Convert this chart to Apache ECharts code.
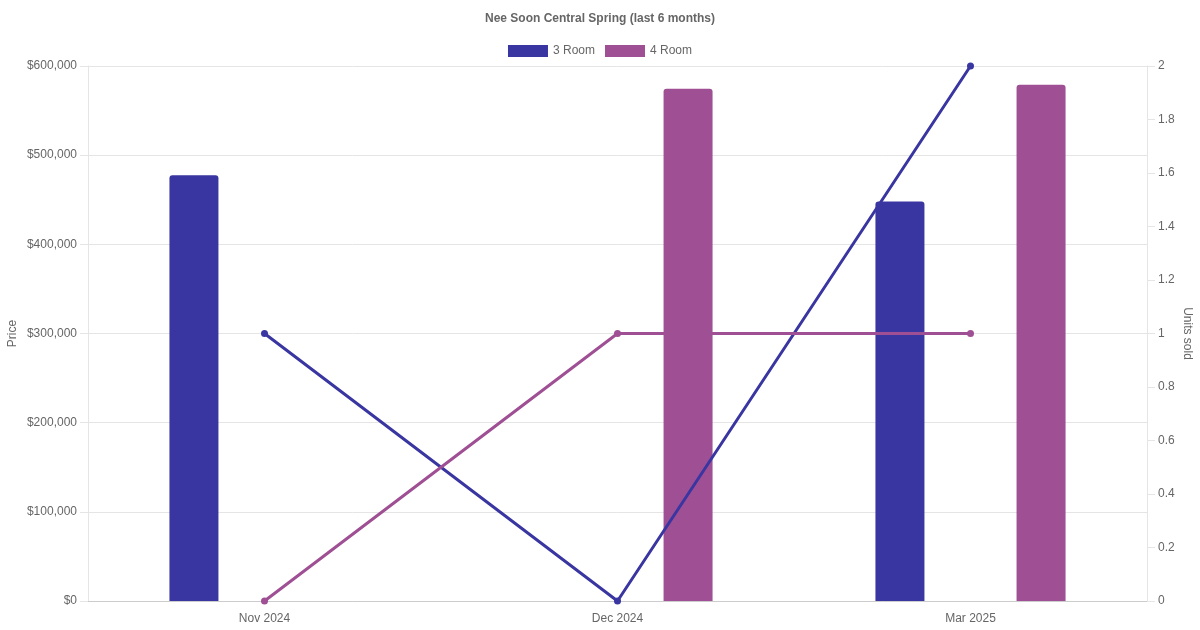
<!DOCTYPE html>
<html>
<head>
<meta charset="utf-8">
<script src="https://cdn.jsdelivr.net/npm/echarts@6/dist/echarts.min.js"></script>
<style>
html,body{margin:0;padding:0;background:#fff;}
#chart{width:1200px;height:630px;}
</style>
</head>
<body>
<div id="chart"></div>
<script>
var title = 'Nee Soon Central Spring (last 6 months)';
var categories = ['Nov 2024', 'Dec 2024', 'Mar 2025'];
var seriesNames = ['3 Room', '4 Room'];
var price3Room = [477500, 0, 448000];
var price4Room = [0, 574500, 579000];
var units3Room = [1, 0, 2];
var units4Room = [0, 1, 1];
var colors = ['#3a36a1', '#9f4f93'];

var font = '"Liberation Sans", Arial, Helvetica, sans-serif';
var chart = echarts.init(document.getElementById('chart'), null, {renderer: 'canvas'});
chart.setOption({
  animation: false,
  textStyle: {fontFamily: font},
  title: {
    text: title, left: 'center', top: 8,
    textStyle: {fontFamily: font, fontSize: 12, fontWeight: 'bold', color: '#666'}
  },
  legend: {
    data: seriesNames, top: 40, left: 'center', icon: 'rect',
    itemWidth: 40, itemHeight: 12, itemGap: 10,
    textStyle: {fontFamily: font, fontSize: 12, color: '#666'}
  },
  grid: {left: 88, right: 53, top: 66, bottom: 29, containLabel: false, outerBoundsMode: 'none'},
  xAxis: {
    type: 'category', data: categories,
    axisLine: {lineStyle: {color: '#ccc'}},
    axisTick: {show: false},
    axisLabel: {color: '#666', fontSize: 12, margin: 12, fontFamily: font},
    splitLine: {show: false}
  },
  yAxis: [{
    type: 'value', min: 0, max: 600000, interval: 100000, position: 'left',
    name: 'Price', nameLocation: 'middle', nameGap: 69, nameRotate: 90, nameMoveOverlap: false,
    nameTextStyle: {color: '#666', fontSize: 12, fontFamily: font},
    axisLine: {show: true, lineStyle: {color: '#e5e5e5'}},
    axisTick: {show: true, length: 8, lineStyle: {color: '#e5e5e5'}},
    axisLabel: {color: '#666', fontSize: 12, margin: 11, fontFamily: font,
      formatter: function (v) { return '$' + v.toLocaleString('en-US'); }},
    splitLine: {show: true, lineStyle: {color: '#e5e5e5'}}
  }, {
    type: 'value', min: 0, max: 2, interval: 0.2, position: 'right',
    name: 'Units sold', nameLocation: 'middle', nameGap: 34, nameRotate: -90, nameMoveOverlap: false,
    nameTextStyle: {color: '#666', fontSize: 12, fontFamily: font},
    axisLine: {show: true, lineStyle: {color: '#e5e5e5'}},
    axisTick: {show: true, length: 8, lineStyle: {color: '#e5e5e5'}},
    axisLabel: {color: '#666', fontSize: 12, margin: 11, fontFamily: font,
      formatter: function (v) { return String(Math.round(v * 10) / 10); }},
    splitLine: {show: false}
  }],
  series: [{
    name: seriesNames[0], type: 'bar', yAxisIndex: 0, data: price3Room,
    barWidth: 49, barGap: '188%',
    itemStyle: {color: colors[0], borderRadius: [3, 3, 0, 0]}
  }, {
    name: seriesNames[1], type: 'bar', yAxisIndex: 0, data: price4Room,
    barWidth: 49, barGap: '188%',
    itemStyle: {color: colors[1], borderRadius: [3, 3, 0, 0]}
  }, {
    name: seriesNames[0], type: 'line', yAxisIndex: 1, data: units3Room,
    symbol: 'circle', symbolSize: 7, showSymbol: true,
    lineStyle: {color: colors[0], width: 3}, itemStyle: {color: colors[0]}, z: 3
  }, {
    name: seriesNames[1], type: 'line', yAxisIndex: 1, data: units4Room,
    symbol: 'circle', symbolSize: 7, showSymbol: true,
    lineStyle: {color: colors[1], width: 3}, itemStyle: {color: colors[1]}, z: 3
  }]
});
</script>
</body>
</html>
